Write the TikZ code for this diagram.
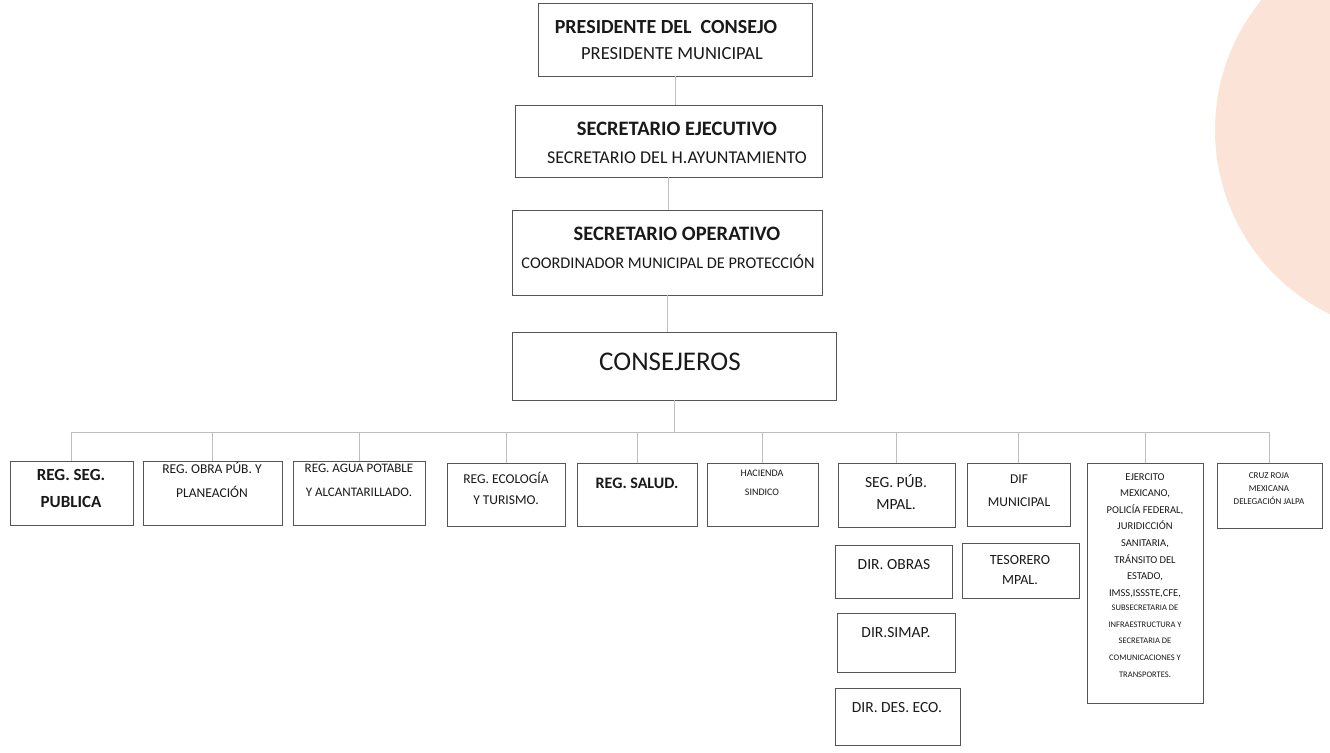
\documentclass[tikz,border=0pt]{standalone}
\usepackage{fontspec}
\setmainfont{Carlito}
\definecolor{peach}{RGB}{251,228,215}
\definecolor{boxline}{RGB}{85,85,85}
\definecolor{conn}{RGB}{190,190,190}
\newcommand\mkbox[5]{\node[bx,minimum width={(#4-#2)*1pt},minimum height={(#5-#3)*1pt}] (#1) at ({(#2+#4)/2},{(#3+#5)/2}) {};}
\newcommand\fs[2]{\fontsize{#1}{#2}\selectfont}
\begin{document}
\begin{tikzpicture}[x=1pt,y=-1pt,
  bx/.style={draw=boxline,line width=0.9pt,inner sep=0pt,outer sep=0pt,rectangle},
  txt/.style={inner sep=0pt,align=center,text=black!90},
  cn/.style={draw=conn,line width=0.7pt}]
\useasboundingbox (0,0) rectangle (1330,752);
\begin{scope}
\clip (0,0) rectangle (1330,752);
\fill[peach] (1420,130) circle (205);
\end{scope}
% top chain
\mkbox{P1}{538}{3}{812}{76}
\mkbox{P2}{515}{105}{822}{177}
\mkbox{P3}{512}{210}{822}{295}
\mkbox{P4}{512}{332}{836}{400}
\node[txt,font=\bfseries\fs{20}{22}] (P1a) at (666,27) {PRESIDENTE DEL\ \ CONSEJO};
\node[txt,font=\fs{18.5}{20}] (P1b) at (672,54) {PRESIDENTE MUNICIPAL};
\node[txt,font=\bfseries\fs{20.5}{22}] (P2a) at (677,129) {SECRETARIO EJECUTIVO};
\node[txt,font=\fs{18}{20}] (P2b) at (677,158) {SECRETARIO DEL H.AYUNTAMIENTO};
\node[txt,font=\bfseries\fs{20.5}{22}] (P3a) at (677,234) {SECRETARIO OPERATIVO};
\node[txt,font=\fs{16.3}{18}] (P3b) at (668,262) {COORDINADOR MUNICIPAL DE PROTECCIÓN};
\node[txt,font=\fs{27}{29}] (P4a) at (670,362) {CONSEJEROS};
% row boxes
\mkbox{r1}{10}{461}{133}{525}
\mkbox{r2}{143}{461}{282}{525}
\mkbox{r3}{293}{461}{425}{525}
\mkbox{r4}{447}{463}{565}{526}
\mkbox{r5}{577}{463}{697}{526}
\mkbox{r6}{707}{463}{818}{526}
\mkbox{r7}{838}{463}{955}{527}
\mkbox{r8}{967}{463}{1070}{526}
\mkbox{r9}{1087}{463}{1203}{703}
\mkbox{r10}{1217}{463}{1322}{528}
\mkbox{d1}{835}{545}{952}{598}
\mkbox{d2}{837}{613}{955}{672}
\mkbox{d3}{835}{688}{960}{745}
\mkbox{t1}{962}{543}{1079}{598}
\node[txt,font=\bfseries\fs{17}{27}] (r1t) at (71,488) {REG. SEG.\\PUBLICA};
\node[txt,font=\fs{13.5}{24}] (r2t) at (212,480) {REG. OBRA PÚB. Y\\PLANEACIÓN};
\node[txt,font=\fs{13}{24}] (r3t) at (359,480) {REG. AGUA POTABLE\\Y ALCANTARILLADO.};
\node[txt,font=\fs{13.5}{21}] (r4t) at (506,488) {REG. ECOLOGÍA\\Y TURISMO.};
\node[txt,font=\bfseries\fs{16}{18}] (r5t) at (637,483) {REG. SALUD.};
\node[txt,font=\fs{10}{19}] (r6t) at (762,483) {HACIENDA\\SINDICO};
\node[txt,font=\fs{15.5}{22}] (r7t) at (896,492) {SEG. PÚB.\\MPAL.};
\node[txt,font=\fs{13.5}{23}] (r8t) at (1019,491) {DIF\\MUNICIPAL};
\node[txt,font=\fs{9}{13}] (r10t) at (1269,489) {CRUZ ROJA\\MEXICANA\\DELEGACIÓN JALPA};
\node[txt,anchor=north,font=\fs{10.5}{16.6}] (r9t) at (1145,473) {EJERCITO\\MEXICANO,\\POLICÍA FEDERAL,\\JURIDICCIÓN\\SANITARIA,\\TRÁNSITO DEL\\ESTADO,\\IMSS,ISSSTE,CFE,\\[-2.2pt]{\fs{8.5}{14.4}SUBSECRETARIA DE}\\{\fs{8.5}{14.4}INFRAESTRUCTURA Y}\\{\fs{8.5}{14.4}SECRETARIA DE}\\{\fs{8.5}{14.4}COMUNICACIONES Y}\\{\fs{8.5}{14.4}TRANSPORTES.}};
\node[txt,font=\fs{15.5}{17}] (d1t) at (894,565) {DIR. OBRAS};
\node[txt,font=\fs{15.5}{17}] (d2t) at (896,633) {DIR.SIMAP.};
\node[txt,font=\fs{15.5}{17}] (d3t) at (897,708) {DIR. DES. ECO.};
\node[txt,font=\fs{14}{20}] (t1t) at (1020,570) {TESORERO\\MPAL.};
% connectors
\coordinate (busL) at (71,432);
\coordinate (busR) at (1269,432);
\draw[cn] (P1.south) -- (P1.south |- P2.north);
\draw[cn] (P2.south) -- (P2.south |- P3.north);
\draw[cn] (P3.south) -- (P3.south |- P4.north);
\draw[cn] (P4.south) -- (P4.south |- busL);
\draw[cn] (busL) -- (busR);
\foreach \n in {r1,r2,r3,r4,r5,r6,r7,r8,r9,r10}{
  \draw[cn] (\n.north |- busL) -- (\n.north);
}
\end{tikzpicture}
\end{document}
